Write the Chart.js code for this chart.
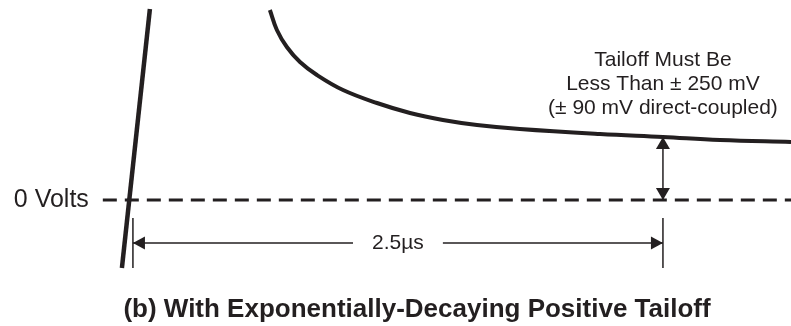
<!DOCTYPE html>
<html>
<head>
<meta charset="utf-8">
<script src="https://cdn.jsdelivr.net/npm/chart.js@4.4.1/dist/chart.umd.min.js"></script>
<style>
    html, body { margin: 0; padding: 0; background: #fff; }
    #wrap { width: 791px; height: 326px; position: relative; }
</style>
</head>
<body>
<div id="wrap"><canvas id="grafico"></canvas></div>
<script>
// tempo em µs (0 = inicio da marcação de 2.5µs), tensão em unidades relativas (0 = 0 Volts)
const edgeTime = [-0.052, 0.080];
const edgeVolts = [-0.68, 1.91];

const tailTime = [0.646, 0.679, 0.726, 0.788, 0.868, 0.991, 1.151, 1.307, 1.462, 1.623, 1.825, 2.203, 2.5, 2.769, 3.104];
const tailVolts = [1.90, 1.70, 1.53, 1.38, 1.25, 1.10, 0.97, 0.87, 0.80, 0.75, 0.71, 0.66, 0.63, 0.60, 0.58];

const zeroTime = [-0.142, 3.104];
const zeroVolts = [0, 0];

const measureTime = 2.5;          // onde o tailoff é medido
const tailoffAtMeasure = 0.63;
const dimLevel = -0.43;            // cota horizontal de 2.5µs
const dimGap = [1.038, 1.462];     // espaço do texto na cota
const tickVolts = [-0.18, -0.68];

const annotationLines = ['Tailoff Must Be', 'Less Than ± 250 mV', '(± 90 mV direct-coupled)'];
const annotationVolts = [1.40, 1.16, 0.92];
const zeroLabel = '0 Volts';
const spanLabel = '2.5µs';
const caption = '(b) With Exponentially-Decaying Positive Tailoff';

const INK = '#231f20';
const FONT = '"Liberation Sans", Arial, Helvetica, sans-serif';

const pts = (xs, ys) => xs.map((x, i) => ({ x: x, y: ys[i] }));

// desenha pontas de seta no inicio/fim de um dataset
const arrowPlugin = {
    id: 'arrowHeads',
    afterDatasetsDraw(chart) {
        const ctx = chart.ctx;
        chart.data.datasets.forEach((ds, i) => {
            if (!ds.arrowStart && !ds.arrowEnd) return;
            const p = chart.getDatasetMeta(i).data;
            const len = ds.arrowLen || 12, half = ds.arrowHalf || 6.5;
            const draw = (tip, from) => {
                const ang = Math.atan2(tip.y - from.y, tip.x - from.x);
                ctx.save();
                ctx.translate(tip.x, tip.y);
                ctx.rotate(ang);
                ctx.beginPath();
                ctx.moveTo(0, 0);
                ctx.lineTo(-len, -half);
                ctx.lineTo(-len, half);
                ctx.closePath();
                ctx.fillStyle = INK;
                ctx.fill();
                ctx.restore();
            };
            if (ds.arrowStart) draw(p[0], p[1]);
            if (ds.arrowEnd) draw(p[p.length - 1], p[p.length - 2]);
        });
    }
};

// textos posicionados pelas escalas
const labelPlugin = {
    id: 'labels',
    afterDraw(chart) {
        const ctx = chart.ctx;
        const xs = chart.scales.x, ys = chart.scales.y;
        const put = (text, x, y, font, align, base) => {
            ctx.save();
            ctx.font = font;
            ctx.fillStyle = INK;
            ctx.textAlign = align;
            ctx.textBaseline = base || 'middle';
            ctx.fillText(text, xs.getPixelForValue(x), ys.getPixelForValue(y));
            ctx.restore();
        };
        put(zeroLabel, -0.208, 0, '25px ' + FONT, 'right');
        put(spanLabel, (dimGap[0] + dimGap[1]) / 2, dimLevel, '21px ' + FONT, 'center');
        annotationLines.forEach((t, i) => put(t, measureTime, annotationVolts[i], '21px ' + FONT, 'center'));
        put(caption, 1.340, -1.17, 'bold 26px ' + FONT, 'center', 'alphabetic');
    }
};

const line = (data, width, extra) => Object.assign({
    data: data,
    borderColor: INK,
    borderWidth: width,
    pointRadius: 0,
    fill: false,
    borderCapStyle: 'butt'
}, extra || {});

new Chart(document.getElementById('grafico'), {
    type: 'line',
    data: {
        datasets: [
            line(pts(edgeTime, edgeVolts), 4.5),
            line(pts(tailTime, tailVolts), 4, { tension: 0.4 }),
            line(pts(zeroTime, zeroVolts), 3, { borderDash: [14, 8] }),
            line(pts([measureTime, measureTime], [0, tailoffAtMeasure]), 1.5,
                 { arrowStart: true, arrowEnd: true, arrowLen: 12, arrowHalf: 7 }),
            line(pts([0, dimGap[0]], [dimLevel, dimLevel]), 1.5, { arrowStart: true }),
            line(pts([dimGap[1], measureTime], [dimLevel, dimLevel]), 1.5, { arrowEnd: true }),
            line(pts([0, 0], tickVolts), 1.5),
            line(pts([measureTime, measureTime], tickVolts), 1.5)
        ]
    },
    options: {
        responsive: true,
        maintainAspectRatio: false,
        animation: false,
        layout: { padding: 0 },
        scales: {
            x: { type: 'linear', min: -0.627, max: 3.104, display: false },
            y: { type: 'linear', min: -1.26, max: 2.0, display: false }
        },
        plugins: {
            legend: { display: false },
            tooltip: { enabled: false }
        }
    },
    plugins: [arrowPlugin, labelPlugin]
});
</script>
</body>
</html>
